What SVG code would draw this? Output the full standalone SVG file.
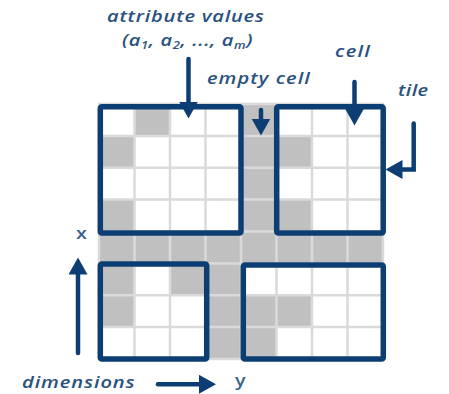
<svg xmlns="http://www.w3.org/2000/svg" width="449" height="394" viewBox="0 0 449 394">
  <style>
    .g { fill: #c0c0c0; }
    .gl { stroke: #dadada; stroke-width: 2.5; fill: none; }
    .tile { fill: none; stroke: #0c3e74; stroke-width: 5.5; stroke-linejoin: round; }
    .lbl { font-family: "Open Sans", "Liberation Sans", sans-serif; font-style: italic; font-weight: 600; font-size: 17px; fill: #2a5280; }
    .ax { font-family: "Open Sans", "Liberation Sans", sans-serif; font-weight: 600; font-size: 16.5px; fill: #3a6290; }
    .arr { stroke: #0c3e74; stroke-width: 4.5; fill: none; stroke-linecap: round; marker-end: url(#head); }
  </style>
  <defs>
    <marker id="head" markerUnits="userSpaceOnUse" markerWidth="18" markerHeight="20" refX="0.5" refY="9.5" orient="auto">
      <path d="M0,0 L17,9.5 L0,19 z" fill="#0c3e74"/>
    </marker>
  </defs>
  <rect width="449" height="394" fill="#ffffff"/>

  <g id="grid">
    <rect x="99" y="104" width="284" height="255" fill="#ffffff"/>
    <rect class="g" x="134.5" y="104" width="35.5" height="31.9"/>
    <rect class="g" x="241" y="104" width="35.5" height="127.5"/>
    <rect class="g" x="99" y="135.9" width="35.5" height="31.9"/>
    <rect class="g" x="276.5" y="135.9" width="35.5" height="31.9"/>
    <rect class="g" x="99" y="199.6" width="35.5" height="31.9"/>
    <rect class="g" x="276.5" y="199.6" width="35.5" height="31.9"/>
    <rect class="g" x="99" y="231.5" width="284" height="31.9"/>
    <rect class="g" x="99" y="263.4" width="35.5" height="63.7"/>
    <rect class="g" x="170" y="263.4" width="35.5" height="31.9"/>
    <rect class="g" x="205.5" y="263.4" width="35.5" height="95.6"/>
    <rect class="g" x="241" y="295.25" width="71" height="31.85"/>
    <rect class="g" x="241" y="327.1" width="35.5" height="31.9"/>
    <path class="gl" d="M134.5,104V359 M170,104V359 M205.5,104V359 M241,104V359 M276.5,104V359 M312,104V359 M347.5,104V359 M99,135.9H383 M99,167.75H383 M99,199.6H383 M99,231.5H383 M99,263.4H383 M99,295.25H383 M99,327.1H383 M99,104H383V359H99Z"/>
  </g>

  <g id="tile-top-left"><rect class="tile" x="100.3" y="106.7" width="140.7" height="126.3" rx="1.5"/></g>
  <g id="tile-top-right"><rect class="tile" x="276.7" y="106.7" width="106.5" height="126.3" rx="1.5"/></g>
  <g id="tile-bottom-left"><rect class="tile" x="100.3" y="264" width="106.4" height="95" rx="1.5"/></g>
  <g id="tile-bottom-right"><rect class="tile" x="243.3" y="265" width="140" height="94" rx="1.5"/></g>

  <g id="label-attribute-values">
    <text class="lbl" transform="translate(107,21.5) scale(1.18,1)" textLength="133" lengthAdjust="spacing">attribute values</text>
    <text class="lbl" transform="translate(122,46) scale(1.18,1)" letter-spacing="0.5">(a<tspan font-size="11" dy="3">1</tspan><tspan dy="-3">, a</tspan><tspan font-size="11" dy="3">2</tspan><tspan dy="-3">, ..., a</tspan><tspan font-size="11" dy="3">m</tspan><tspan dy="-3">)</tspan></text>
  </g>
  <g id="label-empty-cell"><text class="lbl" transform="translate(207,84) scale(1.18,1)" textLength="87" lengthAdjust="spacing">empty cell</text></g>
  <g id="label-cell"><text class="lbl" transform="translate(335,57) scale(1.18,1)" textLength="29.5" lengthAdjust="spacing">cell</text></g>
  <g id="label-tile"><text class="lbl" transform="translate(398,96) scale(1.18,1)" textLength="25.5" lengthAdjust="spacing">tile</text></g>
  <g id="label-dimensions"><text class="lbl" transform="translate(22,388) scale(1.18,1)" textLength="95.5" lengthAdjust="spacing">dimensions</text></g>
  <g id="label-x"><text class="ax" transform="translate(76,238.5) scale(1.2,1)">x</text></g>
  <g id="label-y"><text class="ax" transform="translate(235,385.5) scale(1.2,1)">y</text></g>

  <g id="connectors">
    <line class="arr" x1="188.5" y1="59" x2="188.5" y2="102"/>
    <line class="arr" x1="261" y1="110" x2="261" y2="119"/>
    <line class="arr" x1="354.5" y1="82" x2="354.5" y2="109"/>
    <path class="arr" d="M413.7,123.5 V169.5 H402"/>
    <line class="arr" x1="78" y1="353" x2="78" y2="274"/>
    <line class="arr" x1="158" y1="384.3" x2="199.5" y2="384.3"/>
  </g>
</svg>
